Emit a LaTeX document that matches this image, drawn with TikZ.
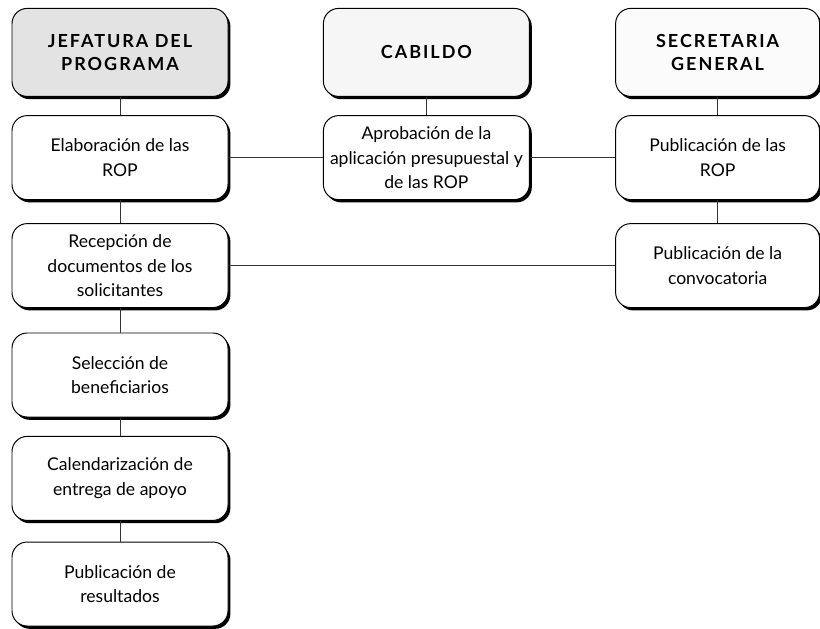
\documentclass[tikz,border=0pt]{standalone}
\usepackage{fontspec}
\setmainfont{Lato}
\newfontfamily\cabecera[LetterSpace=11]{Lato}
\usetikzlibrary{shadows}
\tikzset{
	caja/.style={draw, line width=0.7pt, rounded corners=0.38cm, fill=white, align=center,
		minimum height=2.1cm, minimum width=5.15cm, font=\fontsize{12.5}{17.5}\selectfont,
		drop shadow={shadow xshift=0.06cm, shadow yshift=-0.07cm, fill=black, opacity=1}},
	titulo/.style={caja, minimum height=2.2cm, font=\cabecera\bfseries\fontsize{12.8}{16}\selectfont},
	linea/.style={line width=0.6pt, black!80}
}
\begin{document}
\begin{tikzpicture}
	\useasboundingbox (0,0) rectangle (20.5,-15.7);
	% Encabezados
		\node[titulo, fill=gray!22, minimum width=5.4cm] (jefe) at (3.0,-1.31) {JEFATURA DEL\\PROGRAMA};
		\node[titulo, fill=gray!7] (cabildo) at (10.66,-1.31) {CABILDO};
		\node[titulo, fill=gray!3, minimum width=5.1cm] (secre) at (17.94,-1.31) {SECRETARIA\\GENERAL};

	% Jefatura
		\node[caja, minimum width=5.4cm] (elab) at (3.0,-3.94) {Elaboración de las\\ROP};
		\node[caja, minimum width=5.4cm] (recep) at (3.0,-6.64) {Recepción de\\documentos de los\\solicitantes};
		\node[caja, minimum width=5.4cm] (selec) at (3.0,-9.375) {Selección de\\beneficiarios};
		\node[caja, minimum width=5.4cm] (calen) at (3.0,-11.96) {Calendarización de\\entrega de apoyo};
		\node[caja, minimum width=5.4cm] (result) at (3.0,-14.6) {Publicación de\\resultados};

	% Cabildo
		\node[caja] (aprob) at (10.66,-3.94) {Aprobación de la\\aplicación presupuestal y\\de las ROP};

	% Secretaria
		\node[caja, minimum width=5.1cm] (pubrop) at (17.94,-3.94) {Publicación de las\\ROP};
		\node[caja, minimum width=5.1cm] (convoc) at (17.94,-6.64) {Publicación de la\\convocatoria};

	% Lineas verticales
		\draw[linea] (jefe) -- (elab);
		\draw[linea] (elab) -- (recep);
		\draw[linea] (recep) -- (selec);
		\draw[linea] (selec) -- (calen);
		\draw[linea] (calen) -- (result);
		\draw[linea] (cabildo) -- (aprob);
		\draw[linea] (secre) -- (pubrop);
		\draw[linea] (pubrop) -- (convoc);

	% Lineas horizontales
		\draw[linea] (elab) -- (aprob);
		\draw[linea] (aprob) -- (pubrop);
		\draw[linea] (recep) -- (convoc);
\end{tikzpicture}
\end{document}
